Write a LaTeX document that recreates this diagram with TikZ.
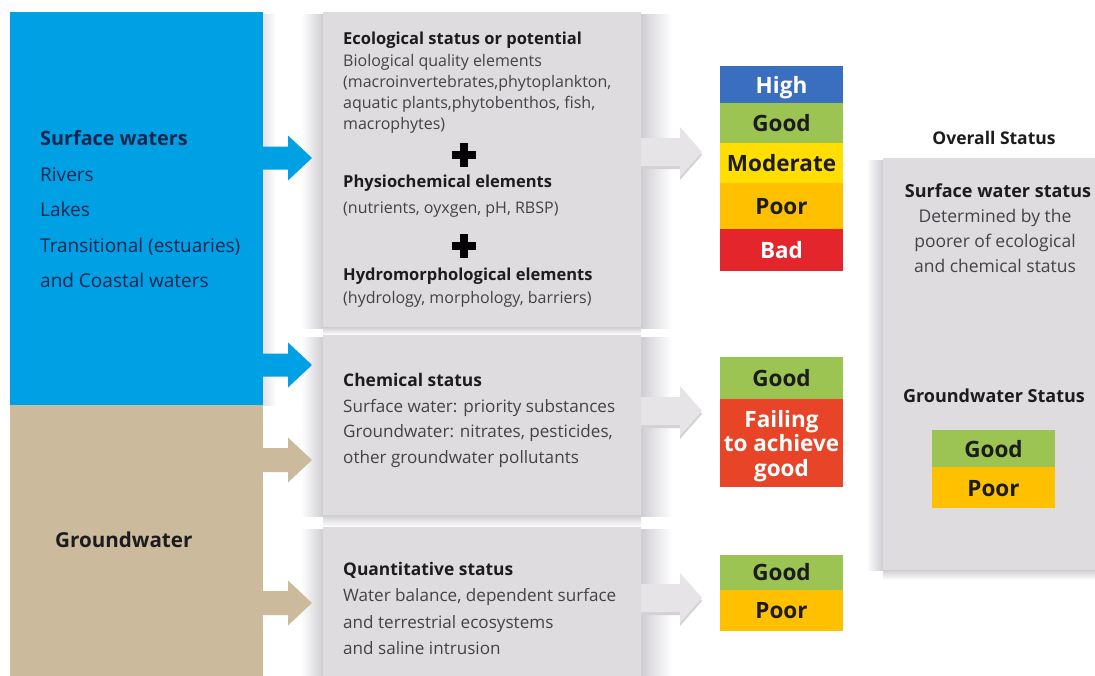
\documentclass[tikz,border=0pt]{standalone}
\usepackage{fontspec}
\setmainfont{Open Sans}

\definecolor{swblue}{RGB}{0,160,228}
\definecolor{gwtan}{RGB}{203,187,156}
\definecolor{panelgrey}{RGB}{223,220,224}
\definecolor{arrowgrey}{RGB}{231,228,231}
\definecolor{arrowshade}{RGB}{212,209,213}
\definecolor{shadowgrey}{RGB}{207,205,210}
\definecolor{navy}{RGB}{22,38,78}
\definecolor{inkdark}{RGB}{28,28,30}
\definecolor{inkgrey}{RGB}{68,66,70}
\definecolor{sthigh}{RGB}{58,110,190}
\definecolor{stgood}{RGB}{155,196,82}
\definecolor{stmod}{RGB}{255,222,0}
\definecolor{stpoor}{RGB}{255,192,0}
\definecolor{stbad}{RGB}{228,37,43}
\definecolor{stfail}{RGB}{231,68,40}

\begin{document}
\begin{tikzpicture}[x=1pt,y=-1pt,
  box/.style={rectangle, inner sep=0pt, outer sep=0pt},
  panel/.style={box, fill=panelgrey},
  cell/.style={box, minimum width=123pt, text height=17pt, text depth=0pt,
    font=\fontsize{22.5}{26}\selectfont\bfseries, text=inkdark},
  whitecell/.style={cell, text=white},
  txt/.style={anchor=base west, inner sep=0pt},
  lefthead/.style={txt, font=\fontsize{19.8}{23}\selectfont\bfseries, text=navy},
  leftline/.style={txt, font=\fontsize{19}{23}\selectfont, text=navy},
  gwhead/.style={txt, font=\fontsize{20.6}{24}\selectfont\bfseries, text=inkdark},
  ehead/.style={txt, font=\fontsize{16.5}{19}\selectfont\bfseries, text=inkdark},
  eline/.style={txt, font=\fontsize{16}{19}\selectfont, text=inkgrey},
  chead/.style={txt, font=\fontsize{17.4}{20}\selectfont\bfseries, text=inkdark},
  cline/.style={txt, font=\fontsize{17.1}{20}\selectfont, text=inkgrey},
  ohead/.style={anchor=base, inner sep=0pt, font=\fontsize{18}{21}\selectfont\bfseries, text=inkdark},
  oline/.style={anchor=base, inner sep=0pt, font=\fontsize{17.5}{20}\selectfont, text=inkgrey},
  failtxt/.style={anchor=base, inner sep=0pt, font=\fontsize{22.5}{26}\selectfont\bfseries, text=white},
  plussign/.style={box, minimum size=24pt,
    path picture={
      \fill[black] (path picture bounding box.center) +(-12pt,-4pt) rectangle +(12pt,4pt);
      \fill[black] (path picture bounding box.center) +(-4pt,-12pt) rectangle +(4pt,12pt);}},
  bluearrow/.style={fill=swblue},
  tanarrow/.style={fill=gwtan},
  greyarrow/.style={fill=arrowgrey},
  greyshade/.style={fill=arrowshade}
]
\useasboundingbox (0,0) rectangle (1095,675);
\fill[white] (0,0) rectangle (1095,675);

% soft shadows around the panels
\shade[left color=white, right color=shadowgrey] (301,14) rectangle (323,328);
\shade[left color=shadowgrey, right color=white] (641,14) rectangle (672,328);
\shade[top color=shadowgrey, bottom color=white] (323,327) rectangle (641,335);
\shade[left color=white, right color=shadowgrey] (301,337) rectangle (323,516);
\shade[left color=shadowgrey, right color=white] (641,337) rectangle (672,516);
\shade[top color=shadowgrey, bottom color=white] (323,515) rectangle (641,527);
\shade[left color=white, right color=shadowgrey] (301,529) rectangle (323,675);
\shade[left color=shadowgrey, right color=white] (641,529) rectangle (672,675);
\shade[left color=white, right color=shadowgrey] (866,160) rectangle (883,570);
\shade[top color=shadowgrey, bottom color=white] (883,570) rectangle (1095,580);
\shade[left color=shadowgrey!60, right color=white] (263,14) rectangle (276,405);

% water categories
\node[box, fill=swblue, minimum width=253pt, minimum height=393pt] (sw) at (136.5,208.5) {};
\node[box, fill=gwtan, minimum width=253pt, minimum height=282pt] (gw) at (136.5,546) {};

% assessment panels
\node[panel, minimum width=318pt, minimum height=315pt] (eco) at (482,169.5) {};
\node[panel, minimum width=318pt, minimum height=180pt] (chem) at (482,425) {};
\node[panel, minimum width=318pt, minimum height=160pt] (quant) at (482,607) {};
\node[panel, minimum width=220pt, minimum height=412pt] (overall) at (993,364) {};

% row levels of the connectors
\coordinate (r1) at (0,158);
\coordinate (r2) at (0,365);
\coordinate (r3) at (0,460);
\coordinate (r4) at (0,603);
\coordinate (g1) at (0,152);
\coordinate (g2) at (0,411);
\coordinate (g3) at (0,598);

% block arrows into the panels
\fill[bluearrow] (sw.east |- r1) ++(0,-11.5) -- ++(25,0) -- ++(0,-11) -- ++(24,22.5)
  -- ++(-24,22.5) -- ++(0,-11) -- ++(-25,0) -- cycle;
\fill[bluearrow] (sw.east |- r2) ++(0,-11.5) -- ++(25,0) -- ++(0,-11) -- ++(24,22.5)
  -- ++(-24,22.5) -- ++(0,-11) -- ++(-25,0) -- cycle;
\fill[tanarrow] (gw.east |- r3) ++(0,-12) -- ++(25,0) -- ++(0,-10.5) -- ++(24,22.5)
  -- ++(-24,22.5) -- ++(0,-10.5) -- ++(-25,0) -- cycle;
\fill[tanarrow] (gw.east |- r4) ++(0,-12) -- ++(25,0) -- ++(0,-10.5) -- ++(24,22.5)
  -- ++(-24,22.5) -- ++(0,-10.5) -- ++(-25,0) -- cycle;

% block arrows out of the panels, each over a faint offset shade
\foreach \src/\row in {eco/g1, chem/g2, quant/g3}{
  \fill[greyshade] ([yshift=-3pt]\src.east |- \row) ++(0,-14) -- ++(39,0) -- ++(0,-11) -- ++(22,25)
    -- ++(-22,25) -- ++(0,-11) -- ++(-39,0) -- cycle;
  \fill[greyarrow] (\src.east |- \row) ++(0,-14) -- ++(39,0) -- ++(0,-11) -- ++(22,25)
    -- ++(-22,25) -- ++(0,-11) -- ++(-39,0) -- cycle;
}

% water category texts
\node[lefthead] (swt) at (40,145.5) {Surface waters};
\node[leftline] (sw1) at (40,181) {Rivers};
\node[leftline] (sw2) at (40,216.5) {Lakes};
\node[leftline] (sw3) at (40,252) {Transitional (estuaries)};
\node[leftline] (sw4) at (40,287) {and Coastal waters};
\node[gwhead] (gwt) at (55,547) {Groundwater};

% ecological panel
\node[ehead] (e1) at (343,44) {Ecological status or potential};
\node[eline] (e2) at (343,66) {Biological quality elements};
\node[eline] (e3) at (343,87) {(macroinvertebrates,phytoplankton,};
\node[eline] (e4) at (343,108) {aquatic plants,phytobenthos, fish,};
\node[eline] (e5) at (343,129) {macrophytes)};
\node[plussign] (p1) at (464,155) {};
\node[ehead] (e6) at (343,187) {Physiochemical elements};
\node[eline] (e7) at (343,213) {(nutrients, oyxgen, pH, RBSP)};
\node[plussign] (p2) at (464,246) {};
\node[ehead] (e8) at (343,280) {Hydromorphological elements};
\node[eline] (e9) at (343,303) {(hydrology, morphology, barriers)};

% chemical panel
\node[chead] (c1) at (343,386) {Chemical status};
\node[cline] (c2) at (343,412) {Surface water: priority substances};
\node[cline] (c3) at (343,437.5) {Groundwater: nitrates, pesticides,};
\node[cline] (c4) at (343,463) {other groundwater pollutants};

% quantitative panel
\node[chead] (q1) at (343,575) {Quantitative status};
\node[cline] (q2) at (343,601.5) {Water balance, dependent surface};
\node[cline] (q3) at (343,628) {and terrestrial ecosystems};
\node[cline] (q4) at (343,654.5) {and saline intrusion};

% ecological classes
\node[whitecell, fill=sthigh, minimum height=37pt] (high) at (781.5,84.5) {High};
\node[cell, fill=stgood, minimum height=40pt] (good1) at (781.5,123) {Good};
\node[cell, fill=stmod, minimum height=40pt] (mod) at (781.5,163) {Moderate};
\node[cell, fill=stpoor, minimum height=46pt] (poor1) at (781.5,206) {Poor};
\node[whitecell, fill=stbad, minimum height=42pt] (bad) at (781.5,250) {Bad};

% chemical classes
\node[cell, fill=stgood, minimum height=42pt] (good2) at (781.5,378) {Good};
\node[box, fill=stfail, minimum width=123pt, minimum height=88pt] (fail) at (781.5,443) {};
\node[failtxt] (f1) at (781.5,427) {Failing};
\node[failtxt] (f2) at (781.5,451) {to achieve};
\node[failtxt] (f3) at (781.5,476) {good};

% quantitative classes
\node[cell, fill=stgood, minimum height=35pt] (good3) at (781.5,572) {Good};
\node[cell, fill=stpoor, minimum height=41pt] (poor3) at (781.5,610) {Poor};

% overall status
\node[anchor=base, inner sep=0pt, font=\fontsize{17.5}{20}\selectfont\bfseries, text=inkdark]
  (ot) at (994,144) {Overall Status};
\node[ohead] (o1) at (998,197) {Surface water status};
\node[oline] (o2) at (995,222) {Determined by the};
\node[oline] (o3) at (995,247) {poorer of ecological};
\node[oline] (o4) at (995,272) {and chemical status};
\node[ohead] (o5) at (994,402) {Groundwater Status};
\node[cell, fill=stgood, minimum height=37pt] (good4) at (993.5,448.5) {Good};
\node[cell, fill=stpoor, minimum height=41pt] (poor4) at (993.5,487.5) {Poor};
\end{tikzpicture}
\end{document}
